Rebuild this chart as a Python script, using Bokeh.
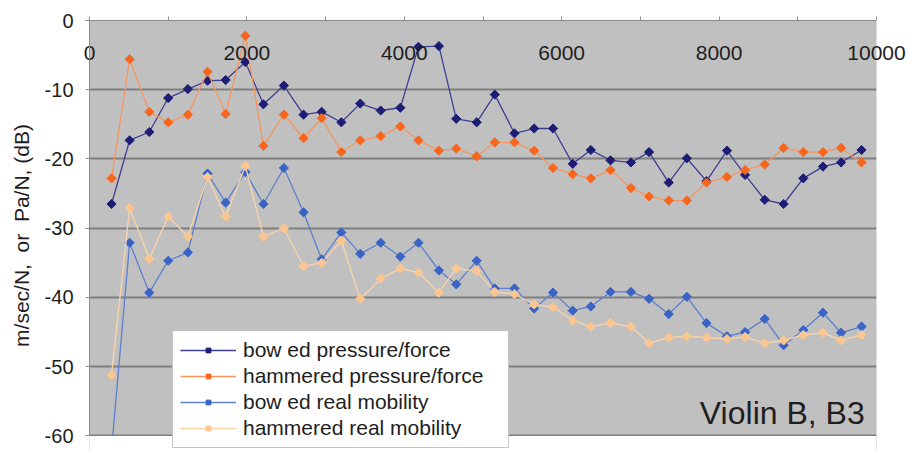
import math

from bokeh.plotting import figure
from bokeh.models import Range1d, FixedTicker, Legend, LegendItem, Label, BoxAnnotation
from bokeh.embed import file_html
from bokeh.resources import INLINE

# Harmonic frequencies (Hz) of the B3 note
freq_hz = [280, 510, 760, 1000, 1250, 1500, 1730, 1980, 2210, 2470,
           2720, 2950, 3200, 3440, 3700, 3950, 4180, 4440, 4660, 4920,
           5150, 5400, 5650, 5890, 6140, 6370, 6620, 6880, 7110, 7360,
           7590, 7840, 8100, 8330, 8580, 8820, 9070, 9320, 9550, 9810]

# Levels in dB
bowed_pressure = [-26.5, -17.3, -16.1, -11.2, -9.9, -8.7, -8.6, -6.0, -12.1, -9.4,
                  -13.6, -13.2, -14.7, -12.0, -13.0, -12.6, -3.8, -3.7, -14.2, -14.7,
                  -10.7, -16.3, -15.6, -15.6, -20.7, -18.7, -20.2, -20.5, -19.0, -23.4,
                  -19.9, -23.2, -18.8, -22.3, -25.9, -26.5, -22.8, -21.1, -20.5, -18.7]
hammered_pressure = [-22.8, -5.6, -13.2, -14.7, -13.6, -7.4, -13.5, -2.2, -18.1, -13.6,
                     -17.0, -14.1, -19.0, -17.3, -16.7, -15.3, -17.3, -18.8, -18.5, -19.6,
                     -17.6, -17.6, -18.8, -21.3, -22.2, -22.8, -21.6, -24.2, -25.4, -26.0,
                     -26.0, -23.4, -22.6, -21.6, -20.8, -18.4, -19.0, -19.0, -18.4, -20.5]
bowed_mobility = [-62.0, -32.1, -39.3, -34.7, -33.5, -22.1, -26.3, -21.9, -26.5, -21.3,
                  -27.7, -34.5, -30.6, -33.7, -32.1, -34.1, -32.1, -36.1, -38.1, -34.7,
                  -38.7, -38.7, -41.6, -39.3, -41.9, -41.3, -39.2, -39.2, -40.2, -42.4,
                  -39.9, -43.7, -45.6, -45.0, -43.1, -46.9, -44.7, -42.2, -45.1, -44.2]
hammered_mobility = [-51.2, -27.1, -34.4, -28.3, -31.2, -22.6, -28.3, -21.0, -31.2, -30.0,
                     -35.5, -35.0, -31.8, -40.2, -37.3, -35.8, -36.4, -39.3, -35.8, -36.2,
                     -39.2, -39.5, -41.0, -41.4, -43.3, -44.2, -43.7, -44.2, -46.6, -45.8,
                     -45.6, -45.8, -46.0, -45.7, -46.6, -46.2, -45.4, -45.1, -46.2, -45.4]

series_names = ["bow ed pressure/force", "hammered pressure/force",
                "bow ed real mobility", "hammered real mobility"]

x_ticks = [0, 2000, 4000, 6000, 8000, 10000]
x_minor_ticks = [1000, 3000, 5000, 7000, 9000]
y_ticks = [-60, -50, -40, -30, -20, -10, 0]
y_tick_labels = ["-60", "-50", "-40", "-30", "-20", "-10", "0"]
y_floor = -60

FONT = "Liberation Sans"
TEXT_COLOR = "#1e1e1e"
AXIS_GREY = "#8c8c8c"

# the frame runs a little past the -60 floor so the legend box can hang below it
p = figure(width=910, height=450, output_backend="svg", toolbar_location=None,
           x_range=Range1d(0, 10000), y_range=Range1d(-62.1, 0),
           x_axis_location="above",
           min_border_left=89, min_border_right=34,
           min_border_top=20, min_border_bottom=0)

p.background_fill_color = "#c0c0c0"
p.border_fill_color = "white"
p.outline_line_color = None

# frequency axis along the top, labels hanging just inside the plot area
xa = p.xaxis[0]
xa.ticker = FixedTicker(ticks=x_ticks, minor_ticks=x_minor_ticks)
xa.major_tick_in = 0
xa.major_tick_out = 4
xa.minor_tick_in = 0
xa.minor_tick_out = 4
xa.major_tick_line_color = AXIS_GREY
xa.minor_tick_line_color = AXIS_GREY
xa.axis_line_color = AXIS_GREY
xa.major_label_standoff = -43
xa.major_label_text_font = FONT
xa.major_label_text_font_size = "21px"
xa.major_label_text_color = TEXT_COLOR

ya = p.yaxis[0]
ya.ticker = FixedTicker(ticks=y_ticks)
ya.bounds = (y_floor, 0)
ya.major_label_overrides = dict(zip(y_ticks, y_tick_labels))
ya.major_tick_in = 0
ya.major_tick_out = 4
ya.minor_tick_line_color = None
ya.major_tick_line_color = AXIS_GREY
ya.axis_line_color = AXIS_GREY
ya.major_label_standoff = 12
ya.major_label_text_font = FONT
ya.major_label_text_font_size = "20px"
ya.major_label_text_color = TEXT_COLOR
ya.axis_label = "m/sec/N,\u00a0 or\u00a0 Pa/N, (dB)"
ya.axis_label_text_font = FONT
ya.axis_label_text_font_size = "21px"
ya.axis_label_text_font_style = "normal"
ya.axis_label_text_color = TEXT_COLOR
ya.axis_label_standoff = 9

p.xgrid.grid_line_color = None
p.ygrid.grid_line_color = "#7f7f7f"
p.ygrid.grid_line_width = 2

line_colors = ["#3f3f92", "#f6965e", "#5c7fd0", "#fcd4aa"]
marker_colors = ["#1d1d76", "#f8661c", "#3a63c6", "#fcc690"]
series_values = [bowed_pressure, hammered_pressure, bowed_mobility, hammered_mobility]

items = []
for name, vals, lc, mc in zip(series_names, series_values, line_colors, marker_colors):
    lr = p.line(freq_hz, vals, line_color=lc, line_width=1.3)
    sr = p.scatter(freq_hz, vals, marker="square", angle=math.pi / 4, size=6.5,
                   fill_color=mc, line_color=mc, line_width=1)
    items.append(LegendItem(label=name, renderers=[lr, sr]))

# white strip below the -60 floor
p.add_layout(BoxAnnotation(top=y_floor, fill_color="white", fill_alpha=1.0,
                           line_color=None))

legend = Legend(items=items, location=(83, 2),
                background_fill_color="white", background_fill_alpha=1.0,
                border_line_color=AXIS_GREY, border_line_width=1,
                label_text_font=FONT, label_text_font_size="21px",
                label_text_color=TEXT_COLOR,
                glyph_width=56, glyph_height=12, label_height=20,
                label_standoff=7, spacing=2, padding=7, margin=0,
                label_width=258)
p.add_layout(legend, "center")

p.add_layout(Label(x=9850, y=-56.7, text="Violin B, B3", text_align="right",
                   text_baseline="alphabetic", text_font=FONT,
                   text_font_size="32px", text_color=TEXT_COLOR))

open("out.html", "w").write(file_html(p, INLINE))
